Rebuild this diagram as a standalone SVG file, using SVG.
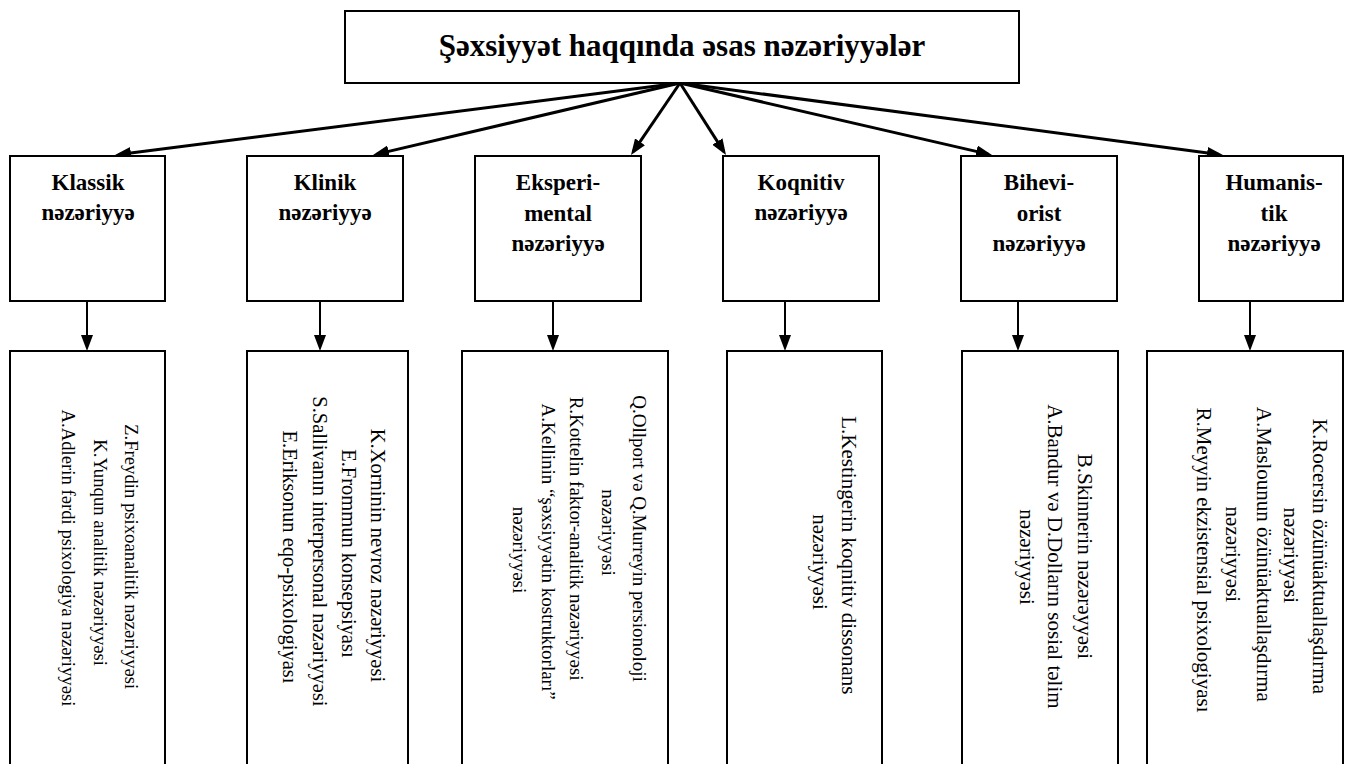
<svg xmlns="http://www.w3.org/2000/svg" width="1354" height="764" viewBox="0 0 1354 764">
<style>
  .box { fill: #ffffff; stroke: #000000; stroke-width: 2; }
  .title { font-family: "Liberation Serif", "Times New Roman", serif; font-weight: bold; font-size: 31px; text-anchor: middle; fill: #000; }
  .head { font-family: "Liberation Serif", "Times New Roman", serif; font-weight: bold; font-size: 23px; text-anchor: middle; fill: #000; }
  .body { font-family: "Liberation Serif", "Times New Roman", serif; font-size: 21px; text-anchor: middle; fill: #000; }
  .conn { fill: none; stroke: #000000; }
  .top { stroke-width: 3; }
  .down { stroke-width: 2; }
</style>
<defs>
  <marker id="ah" markerWidth="16" markerHeight="12" refX="12" refY="6" orient="auto" markerUnits="userSpaceOnUse">
    <path d="M0,0 L16,6 L0,12 Z" fill="#000"/>
  </marker>
</defs>
<rect x="0" y="0" width="1354" height="764" fill="#ffffff"/>

<g id="connectors">
  <line class="conn top" x1="680" y1="83" x2="118.97" y2="154.49" marker-end="url(#ah)"/>
  <line class="conn top" x1="680" y1="83" x2="376.9" y2="154.1" marker-end="url(#ah)"/>
  <line class="conn top" x1="680" y1="83" x2="633.25" y2="151.69" marker-end="url(#ah)"/>
  <line class="conn top" x1="680" y1="83" x2="723.85" y2="151.63" marker-end="url(#ah)"/>
  <line class="conn top" x1="680" y1="83" x2="988.1" y2="154.1" marker-end="url(#ah)"/>
  <line class="conn top" x1="680" y1="83" x2="1219.0" y2="154.47" marker-end="url(#ah)"/>
  <line class="conn down" x1="87" y1="301" x2="87" y2="347" marker-end="url(#ah)"/>
  <line class="conn down" x1="320" y1="301" x2="320" y2="347" marker-end="url(#ah)"/>
  <line class="conn down" x1="553" y1="301" x2="553" y2="347" marker-end="url(#ah)"/>
  <line class="conn down" x1="785" y1="301" x2="785" y2="347" marker-end="url(#ah)"/>
  <line class="conn down" x1="1018" y1="301" x2="1018" y2="347" marker-end="url(#ah)"/>
  <line class="conn down" x1="1250" y1="301" x2="1250" y2="347" marker-end="url(#ah)"/>
</g>

<g id="root">
  <rect class="box" x="345" y="11" width="674" height="72"/>
  <text class="title" x="682" y="56">Şəxsiyyət haqqında əsas nəzəriyyələr</text>
</g>

<g id="klassik">
  <rect class="box" x="10" y="156" width="155" height="145"/>
  <text class="head" x="88" y="190">Klassik</text>
  <text class="head" x="88" y="220">nəzəriyyə</text>
</g>
<g id="klinik">
  <rect class="box" x="247" y="156" width="156" height="145"/>
  <text class="head" x="325" y="190">Klinik</text>
  <text class="head" x="325" y="220">nəzəriyyə</text>
</g>
<g id="eksperimental">
  <rect class="box" x="475" y="156" width="166" height="145"/>
  <text class="head" x="558" y="190">Eksperi-</text>
  <text class="head" x="558" y="221">mental</text>
  <text class="head" x="558" y="251">nəzəriyyə</text>
</g>
<g id="koqnitiv">
  <rect class="box" x="723" y="156" width="156" height="145"/>
  <text class="head" x="801" y="190">Koqnitiv</text>
  <text class="head" x="801" y="220">nəzəriyyə</text>
</g>
<g id="biheviorist">
  <rect class="box" x="961" y="156" width="156" height="145"/>
  <text class="head" x="1039" y="190">Bihevi-</text>
  <text class="head" x="1039" y="221">orist</text>
  <text class="head" x="1039" y="251">nəzəriyyə</text>
</g>
<g id="humanistik">
  <rect class="box" x="1199" y="156" width="144" height="145"/>
  <text class="head" x="1274" y="190">Humanis-</text>
  <text class="head" x="1274" y="221">tik</text>
  <text class="head" x="1274" y="251">nəzəriyyə</text>
</g>

<g id="klassik-list">
  <rect class="box" x="10" y="351" width="155" height="420"/>
  <text class="body" style="font-size:18.7px" transform="rotate(90)">
    <tspan x="559" y="-125">Z.Freydin psixoanalitik nəzəriyyəsi</tspan>
    <tspan x="555" y="-94">K.Yunqun analitik nəzəriyyəsi</tspan>
    <tspan x="558" y="-62">A.Adlerin fərdi psixologiya nəzəriyyəsi</tspan>
  </text>
</g>
<g id="klinik-list">
  <rect class="box" x="247" y="351" width="161" height="420"/>
  <text class="body" style="font-size:20.5px" transform="rotate(90)">
    <tspan x="558" y="-371">K.Xorninin nevroz nəzəriyyəsi</tspan>
    <tspan x="556" y="-342">E.Frommun konsepsiyası</tspan>
    <tspan x="554" y="-313">S.Sallivanın interpersonal nəzəriyyəsi</tspan>
    <tspan x="557" y="-283">E.Eriksonun eqo-psixologiyası</tspan>
  </text>
</g>
<g id="eksperimental-list">
  <rect class="box" x="462" y="351" width="206" height="420"/>
  <text class="body" style="font-size:19px" transform="rotate(90)">
    <tspan x="541" y="-633">Q.Ollport və Q.Murreyin persionoloji</tspan>
    <tspan x="535" y="-602">nəzəriyyəsi</tspan>
    <tspan x="541" y="-570">R.Kottelin faktor-analitik nəzəriyyəsi</tspan>
    <tspan x="554" y="-542">A.Kellinin “şəxsiyyətin kostruktorları”</tspan>
    <tspan x="550" y="-513">nəzəriyyəsi</tspan>
  </text>
</g>
<g id="koqnitiv-list">
  <rect class="box" x="727" y="351" width="155" height="420"/>
  <text class="body" transform="rotate(90)">
    <tspan x="558" y="-842">L.Kestingerin koqnitiv dissonans</tspan>
    <tspan x="562" y="-813">nəzəriyyəsi</tspan>
  </text>
</g>
<g id="biheviorist-list">
  <rect class="box" x="962" y="351" width="156" height="420"/>
  <text class="body" transform="rotate(90)">
    <tspan x="559" y="-1078">B.Skinnerin nəzərəyyəsi</tspan>
    <tspan x="559" y="-1048">A.Bandur və D.Dolların sosial təlim</tspan>
    <tspan x="557" y="-1020">nəzəriyyəsi</tspan>
  </text>
</g>
<g id="humanistik-list">
  <rect class="box" x="1147" y="351" width="196" height="420"/>
  <text class="body" transform="rotate(90)">
    <tspan x="559" y="-1313">K.Rocersin özünüaktuallaşdırma</tspan>
    <tspan x="558" y="-1284">nəzəriyyəsi</tspan>
    <tspan x="557" y="-1257">A.Maslounun özünüaktuallaşdırma</tspan>
    <tspan x="557" y="-1226">nəzəriyyəsi</tspan>
    <tspan x="560" y="-1197">R.Meyyin ekzistensial psixologiyası</tspan>
  </text>
</g>
</svg>
